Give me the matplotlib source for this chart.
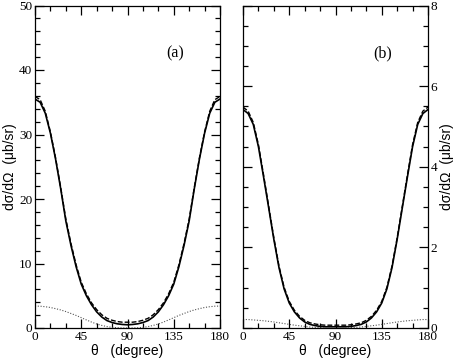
import matplotlib
matplotlib.use("Agg")
import matplotlib.pyplot as plt
from matplotlib.ticker import MultipleLocator

# scattering angle (degree)
theta = list(range(0, 181, 5))

# panel (a), values in micro-barn/sr
a_solid = [35.5, 35.0, 33.3, 30.2, 26.2, 21.6, 16.6, 12.8, 9.5, 6.8, 5.0, 3.6, 2.5, 1.7, 1.15, 0.85, 0.65, 0.55,
           0.5,
           0.55, 0.65, 0.85, 1.15, 1.7, 2.5, 3.6, 5.0, 6.8, 9.5, 12.8, 16.6, 21.6, 26.2, 30.2, 33.3, 35.0, 35.5]
a_dashed = [35.9, 35.4, 33.6, 30.4, 26.4, 21.8, 16.9, 13.1, 9.8, 7.1, 5.3, 3.9, 2.85, 2.05, 1.5, 1.2, 1.0, 0.9,
            0.9,
            0.9, 1.0, 1.2, 1.5, 2.05, 2.85, 3.9, 5.3, 7.1, 9.8, 13.1, 16.9, 21.8, 26.4, 30.4, 33.6, 35.4, 35.9]
a_dotted = [3.4, 3.38, 3.3, 3.18, 3.0, 2.8, 2.55, 2.25, 1.95, 1.6, 1.25, 0.92, 0.62, 0.4, 0.22, 0.1, 0.04, 0.01,
            0.0,
            0.01, 0.04, 0.1, 0.22, 0.4, 0.62, 0.92, 1.25, 1.6, 1.95, 2.25, 2.55, 2.8, 3.0, 3.18, 3.3, 3.38, 3.4]

# panel (b)
b_solid = [5.42, 5.32, 5.05, 4.5, 3.75, 2.98, 2.2, 1.5, 0.97, 0.62, 0.4, 0.25, 0.15, 0.09, 0.06, 0.04, 0.03, 0.03,
           0.03,
           0.03, 0.03, 0.04, 0.06, 0.09, 0.15, 0.25, 0.4, 0.62, 0.97, 1.5, 2.2, 2.98, 3.75, 4.5, 5.05, 5.32, 5.42]
b_dashed = [5.48, 5.38, 5.1, 4.55, 3.8, 3.02, 2.24, 1.54, 1.01, 0.66, 0.44, 0.29, 0.19, 0.13, 0.1, 0.08, 0.07, 0.07,
            0.07,
            0.07, 0.07, 0.08, 0.1, 0.13, 0.19, 0.29, 0.44, 0.66, 1.01, 1.54, 2.24, 3.02, 3.8, 4.55, 5.1, 5.38, 5.48]
b_dotted = [0.21, 0.21, 0.2, 0.19, 0.18, 0.165, 0.15, 0.13, 0.11, 0.09, 0.07, 0.055, 0.04, 0.025, 0.015, 0.008,
            0.003, 0.001,
            0.0,
            0.001, 0.003, 0.008, 0.015, 0.025, 0.04, 0.055, 0.07, 0.09, 0.11, 0.13, 0.15, 0.165, 0.18, 0.19, 0.2,
            0.21, 0.21]

x_ticks = [0, 45, 90, 135, 180]
ylabel = "d\u03c3/d\u03a9  (\u03bcb/sr)"
xlabel = "\u03b8   (degree)"

serif = "Liberation Serif"
sans = "Liberation Sans"

fig = plt.figure(figsize=(4.57, 3.61), dpi=100)
ax1 = fig.add_axes([35 / 457, 33 / 361, 185 / 457, 322.5 / 361])
ax2 = fig.add_axes([243 / 457, 33 / 361, 185 / 457, 322.5 / 361])


def style_axis(ax, ymax, ymajor, yminor, label, right=False):
    ax.set_xlim(0, 180)
    ax.set_ylim(0, ymax)
    ax.set_xticks(x_ticks)
    ax.xaxis.set_minor_locator(MultipleLocator(15))
    ax.yaxis.set_major_locator(MultipleLocator(ymajor))
    ax.yaxis.set_minor_locator(MultipleLocator(yminor))
    ax.tick_params(which="both", direction="in", top=True, right=True, left=True, bottom=True,
                   width=0.9, pad=2, labelsize=9.5)
    ax.tick_params(which="major", length=6.5)
    ax.tick_params(which="minor", length=3.5)
    if right:
        ax.tick_params(labelleft=False, labelright=True)
        ax.yaxis.set_label_position("right")
    for lab in ax.get_xticklabels() + ax.get_yticklabels():
        lab.set_fontfamily(serif)
    for sp in ax.spines.values():
        sp.set_linewidth(0.9)
    ax.set_xlabel(xlabel, fontfamily=sans, fontsize=10, labelpad=1)
    ax.set_ylabel(ylabel, fontfamily=sans, fontsize=10, labelpad=2 if right else 1)


ax1.plot(theta, a_solid, color="black", lw=1.2)
ax1.plot(theta, a_dashed, color="black", lw=1.0, dashes=(3.5, 1.5))
ax1.plot(theta, a_dotted, color="#555555", lw=0.8, dashes=(1, 1.5))
style_axis(ax1, 50, 10, 2, ylabel)
ax1.text(136, 42.6, "(a)", fontfamily=serif, fontsize=11.5, ha="center", va="center")

ax2.plot(theta, b_solid, color="black", lw=1.2)
ax2.plot(theta, b_dashed, color="black", lw=1.0, dashes=(3.5, 1.5))
ax2.plot(theta, b_dotted, color="#555555", lw=0.8, dashes=(1, 1.5))
style_axis(ax2, 8, 2, 0.5, ylabel, right=True)
ax2.text(136, 6.82, "(b)", fontfamily=serif, fontsize=11.5, ha="center", va="center")

fig.savefig("out.png", dpi=100)
